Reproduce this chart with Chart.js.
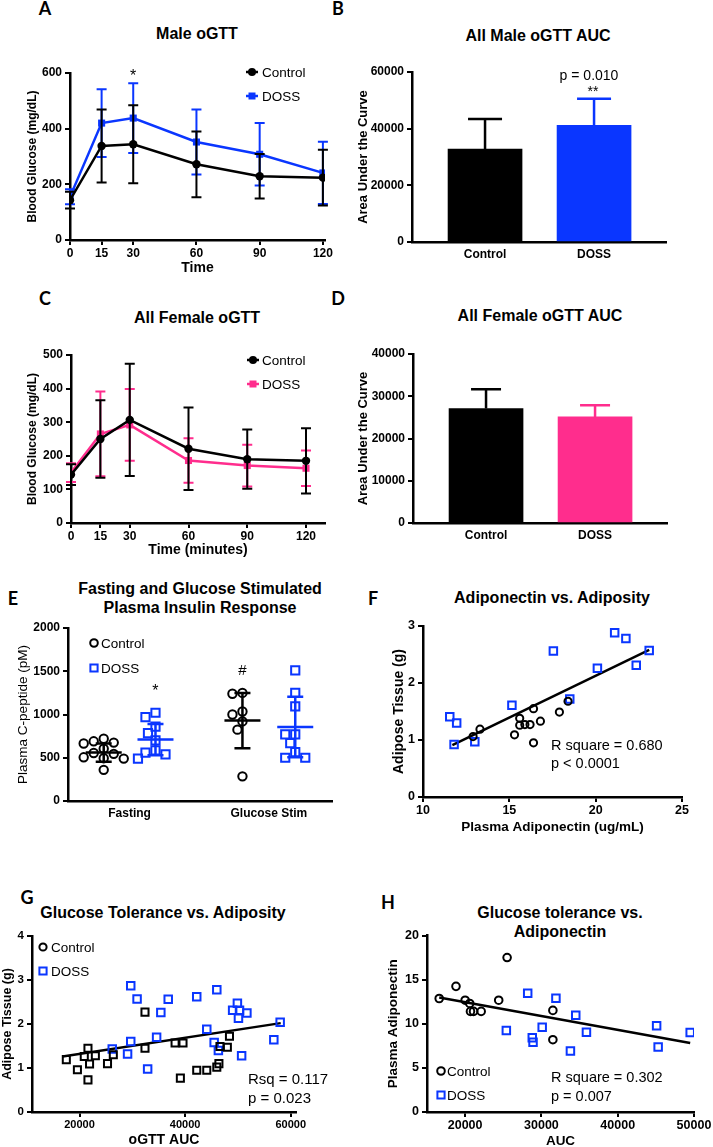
<!DOCTYPE html>
<html>
<head>
<meta charset="utf-8">
<script src="https://cdn.jsdelivr.net/npm/chart.js@4.4.1/dist/chart.umd.min.js"></script>
<style>
  body { margin: 0; width: 713px; height: 1147px; position: relative; overflow: hidden; background: #fff; font-family: "Liberation Sans", Arial, sans-serif; }
  canvas { position: absolute; }
  .ttl { position: absolute; transform: translate(-50%, -50%); font-weight: bold; font-size: 16px; white-space: nowrap; text-align: center; line-height: 19px; }
  .lt { position: absolute; transform: translate(-50%, -50%); font-family: Lato, "Liberation Sans", sans-serif; font-weight: bold; font-size: 18px; }
</style>
</head>
<body>
<div class="lt" style="left:45px;top:8px">A</div>
<div class="lt" style="left:338px;top:8px">B</div>
<div class="lt" style="left:45px;top:298px">C</div>
<div class="lt" style="left:338px;top:298px">D</div>
<div class="lt" style="left:13px;top:598px">E</div>
<div class="lt" style="left:373px;top:598px">F</div>
<div class="lt" style="left:27px;top:897px">G</div>
<div class="lt" style="left:388px;top:902px">H</div>

<div class="ttl" style="left:197px;top:33px">Male oGTT</div>
<div class="ttl" style="left:538px;top:35px">All Male oGTT AUC</div>
<div class="ttl" style="left:197px;top:317px">All Female oGTT</div>
<div class="ttl" style="left:540px;top:315px">All Female oGTT AUC</div>
<div class="ttl" style="left:200px;top:598px">Fasting and Glucose Stimulated<br>Plasma Insulin Response</div>
<div class="ttl" style="left:552px;top:597px">Adiponectin vs. Adiposity</div>
<div class="ttl" style="left:163px;top:912px">Glucose Tolerance vs. Adiposity</div>
<div class="ttl" style="left:560px;top:922px">Glucose tolerance vs.<br>Adiponectin</div>

<script>
// ---- data ----
const timePoints = [0, 15, 30, 60, 90, 120];

// A: male oGTT, mean and SD (mg/dL)
const maleCtrlMean = [143, 338, 344, 272, 229, 224];
const maleCtrlSD = [30, 131, 140, 118, 80, 100];
const maleDossMean = [155, 420, 438, 352, 308, 241];
const maleDossSD = [27, 122, 125, 117, 112, 112];

// C: female oGTT
const femCtrlMean = [144, 250, 307, 221, 190, 185];
const femCtrlSD = [31, 115, 167, 123, 88, 97];
const femDossMean = [150, 265, 292, 186, 171, 163];
const femDossSD = [28, 126, 107, 66, 62, 53];

// B, D: AUC bars
const aucGroups = ['Control', 'DOSS'];
const maleAuc = [32800, 41200];
const maleAucSD = [10650, 9350];
const femAuc = [27100, 25100];
const femAucSD = [4550, 2780];

// E: C-peptide (pM)
const insulinGroups = ['Fasting', 'Glucose Stim'];
const fastCtrl = [690, 665, 675, 720, 605, 545, 505, 495, 490, 555, 360];
const fastDoss = [1020, 970, 860, 785, 700, 560, 490, 540, 585];
const stimCtrl = [1250, 1240, 1000, 1035, 920, 825, 285];
const stimDoss = [1510, 1250, 1095, 770, 770, 670, 565, 500, 500];
const ctrlMeans = [560, 930];
const ctrlSDs = [105, 320];
const dossMeans = [710, 855];
const dossSDs = [180, 350];

// F: adiponectin (ug/mL) vs adipose tissue (g)
const fCtrlX = [12.9, 13.3, 15.3, 15.6, 15.6, 15.9, 16.2, 16.4, 16.4, 16.8, 17.9, 18.4];
const fCtrlY = [1.06, 1.19, 1.09, 1.38, 1.26, 1.27, 1.27, 1.55, 0.95, 1.33, 1.49, 1.68];
const fDossX = [11.55, 11.95, 11.8, 13.0, 15.15, 17.55, 18.5, 20.1, 21.1, 21.75, 22.35, 23.1];
const fDossY = [1.41, 1.30, 0.92, 0.97, 1.61, 2.56, 1.72, 2.26, 2.88, 2.78, 2.31, 2.57];
const fFitX = [11.7, 23.1];
const fFitY = [0.91, 2.58];

// G: oGTT AUC vs adipose tissue (g)
const gCtrlX = [17500, 19600, 20900, 21600, 21600, 21900, 23000, 25300, 26400, 32400, 32400, 38100, 39100, 39600, 42200, 44100, 46000, 46400, 46600, 48000, 48400];
const gCtrlY = [1.19, 0.96, 1.26, 1.45, 0.73, 1.09, 1.28, 1.10, 1.30, 1.45, 2.27, 1.57, 0.77, 1.57, 0.95, 0.95, 1.02, 1.10, 1.49, 1.47, 1.72];
const gDossX = [26200, 29100, 29700, 29700, 30900, 32900, 34600, 35400, 36800, 42200, 44100, 45500, 46000, 46300, 49000, 49900, 50100, 50300, 51700, 50700, 56800, 58000];
const gDossY = [1.43, 1.32, 1.60, 2.87, 2.57, 0.98, 1.70, 2.26, 2.56, 2.62, 1.88, 1.58, 2.78, 1.40, 2.31, 2.47, 2.13, 2.31, 2.25, 1.28, 1.64, 2.04];
const gFitX = [16800, 58100];
const gFitY = [1.26, 2.02];

// H: AUC vs plasma adiponectin
const hCtrlX = [16600, 18800, 20000, 20600, 20700, 21100, 22100, 24400, 25500, 31500, 31500];
const hCtrlY = [12.86, 14.24, 12.67, 12.30, 11.40, 11.40, 11.40, 12.67, 17.50, 11.51, 8.19];
const hDossX = [25400, 28200, 28800, 28900, 30100, 31900, 33800, 34500, 35900, 45100, 45300, 49500];
const hDossY = [9.23, 13.46, 8.41, 7.89, 9.61, 12.90, 6.92, 10.95, 9.05, 9.76, 7.36, 9.01];
const hFitX = [16600, 49500];
const hFitY = [12.97, 7.81];

// ---- styling ----
const BLUE = '#0a36ff';
const PINK = '#ff2d8d';
const FONT = '"Liberation Sans", Arial, Helvetica, sans-serif';
Chart.defaults.font.family = FONT;
Chart.defaults.color = '#000';

const decoCfg = {};

function xy(xs, ys) { return xs.map((x, i) => ({ x: x, y: ys[i] })); }

function drawMark(ctx, shape, x, y, r, color, fill) {
  ctx.beginPath();
  if (shape === 'circle') ctx.arc(x, y, r, 0, Math.PI * 2);
  else ctx.rect(x - r, y - r, 2 * r, 2 * r);
  if (fill) { ctx.fillStyle = color; ctx.fill(); }
  else { ctx.lineWidth = 2; ctx.strokeStyle = color; ctx.stroke(); }
}

// error bars (symmetric or upper only) from dataset arrays
const errorBars = {
  id: 'errorBars',
  beforeDatasetDraw(chart, args) {
    const ds = chart.data.datasets[args.index];
    if (!ds.errs && !ds.errUp) return;
    const ctx = chart.ctx, ys = chart.scales.y, cap = ds.capHalf || 5;
    ctx.save();
    ctx.lineWidth = ds.errWidth || 2;
    args.meta.data.forEach((el, i) => {
      const v = ds.data[i].y;
      const up = ds.errs ? ds.errs[i] : ds.errUp[i];
      const lo = ds.errs ? ds.errs[i] : 0;
      const c = ds.errColor || ds.borderColor;
      ctx.strokeStyle = Array.isArray(c) ? c[i] : c;
      const yt = ys.getPixelForValue(v + up), yb = ys.getPixelForValue(v - lo);
      ctx.beginPath();
      ctx.moveTo(el.x, yt); ctx.lineTo(el.x, yb);
      ctx.moveTo(el.x - cap, yt); ctx.lineTo(el.x + cap, yt);
      if (lo) { ctx.moveTo(el.x - cap, yb); ctx.lineTo(el.x + cap, yb); }
      ctx.stroke();
    });
    ctx.restore();
  },
  // mean line + SD for the dot plot
  afterDatasetDraw(chart, args) {
    const ds = chart.data.datasets[args.index];
    if (!ds.summary) return;
    const s = ds.summary, ctx = chart.ctx, xs = chart.scales.x, ys = chart.scales.y;
    ctx.save();
    ctx.strokeStyle = ds.borderColor;
    ctx.lineWidth = 2.5;
    s.at.forEach((xv, i) => {
      const x = xs.getPixelForValue(xv);
      const ym = ys.getPixelForValue(s.means[i]);
      const yt = ys.getPixelForValue(s.means[i] + s.sds[i]);
      const yb = ys.getPixelForValue(s.means[i] - s.sds[i]);
      ctx.beginPath();
      ctx.moveTo(x - 18, ym); ctx.lineTo(x + 18, ym);
      ctx.moveTo(x, yt); ctx.lineTo(x, yb);
      ctx.moveTo(x - 8, yt); ctx.lineTo(x + 8, yt);
      ctx.moveTo(x - 8, yb); ctx.lineTo(x + 8, yb);
      ctx.stroke();
    });
    ctx.restore();
  }
};

// legends and text notes
const deco = {
  id: 'deco',
  afterDraw(chart) {
    const o = decoCfg[chart.canvas.id];
    if (!o) return;
    const ctx = chart.ctx, ox = o.box.x, oy = o.box.y;
    ctx.save();
    if (o.legend) {
      const L = o.legend;
      L.items.forEach((it, k) => {
        const ds = chart.data.datasets[it.ds];
        const x = L.x - ox, y = L.y + k * L.dy - oy;
        if (it.line) {
          ctx.strokeStyle = ds.borderColor; ctx.lineWidth = 2.5;
          ctx.beginPath(); ctx.moveTo(x - 6, y); ctx.lineTo(x + 6, y); ctx.stroke();
        }
        drawMark(ctx, it.shape, x, y, it.size, ds.borderColor, it.fill);
        ctx.fillStyle = '#000';
        ctx.font = L.font;
        ctx.textAlign = 'left'; ctx.textBaseline = 'middle';
        ctx.fillText(ds.label, L.tx - ox, y + 1);
      });
    }
    (o.notes || []).forEach(n => {
      let x, y;
      if (n.data) { x = chart.scales.x.getPixelForValue(n.x); y = chart.scales.y.getPixelForValue(n.y); }
      else { x = n.x - ox; y = n.y - oy; }
      ctx.fillStyle = '#000';
      ctx.font = n.font;
      ctx.textAlign = n.align || 'center'; ctx.textBaseline = 'middle';
      ctx.fillText(n.text, x, y);
    });
    ctx.restore();
  }
};

function yScale(box, plot, o) {
  const lh = o.tsize * 1.2;
  return {
    type: 'linear', position: 'left', min: o.min, max: o.max,
    ticks: { stepSize: o.step, font: { size: o.fsize || 12, weight: 'bold' }, padding: 3, callback: v => v },
    grid: { drawOnChartArea: false, color: '#000', lineWidth: 2, tickLength: 5 },
    border: { color: '#000', width: 2.5 },
    title: { display: true, text: o.title, font: { size: o.tsize, weight: o.tweight || 'bold' },
      padding: { top: o.tx - box.x - lh / 2, bottom: 0 } },
    afterFit(s) { s.width = plot.l - box.x; }
  };
}

function xScale(box, plot, o) {
  const lh = (o.tsize || 14) * 1.2;
  return {
    type: 'linear', position: 'bottom', min: o.min, max: o.max, offset: false,
    afterBuildTicks(s) { s.ticks = o.ticks.map(v => ({ value: v })); },
    ticks: { autoSkip: false, maxRotation: 0, font: { size: o.fsize || 12, weight: 'bold' },
      padding: o.tickMarks ? 1 : 5, callback: o.labels ? (v, i) => o.labels[i] : v => v },
    grid: { offset: false, drawOnChartArea: false, drawTicks: !!o.tickMarks, color: '#000', lineWidth: 2, tickLength: 5 },
    border: { color: '#000', width: 2.5 },
    title: o.title ? { display: true, text: o.title, font: { size: o.tsize, weight: 'bold' },
      padding: { top: 0, bottom: box.y + box.h - o.ty - lh / 2 } } : { display: false },
    afterFit(s) { s.height = box.y + box.h - plot.b; }
  };
}

function makeChart(id, box, plot, type, datasets, scales, extra) {
  const c = document.createElement('canvas');
  c.id = id; c.width = box.w; c.height = box.h;
  c.style.left = box.x + 'px'; c.style.top = box.y + 'px';
  document.body.appendChild(c);
  if (extra) { extra.box = box; decoCfg[id] = extra; }
  return new Chart(c, {
    type: type,
    data: { datasets: datasets },
    options: {
      responsive: false, animation: false, devicePixelRatio: 1, events: [],
      layout: { padding: { left: 0, top: plot.t - box.y, right: box.x + box.w - plot.r, bottom: 0 } },
      plugins: { legend: { display: false }, tooltip: { enabled: false } },
      scales: scales
    },
    plugins: [errorBars, deco]
  });
}

function lineSet(label, color, means, sds, shape, r) {
  return {
    label: label, data: xy(timePoints, means), errs: sds, capHalf: 5,
    borderColor: color, backgroundColor: color, borderWidth: 2.5,
    pointStyle: shape, pointRadius: r, pointBorderWidth: 0, tension: 0
  };
}

const legFont = '13.5px ' + FONT;

// ---- A ----
{
  const box = { x: 0, y: 45, w: 350, h: 240 }, plot = { l: 70, r: 325, t: 73, b: 240 };
  makeChart('cA', box, plot, 'line', [
    lineSet('Control', '#000', maleCtrlMean, maleCtrlSD, 'circle', 4.2),
    lineSet('DOSS', BLUE, maleDossMean, maleDossSD, 'rect', 5)
  ], {
    x: xScale(box, plot, { min: 0, max: 121, ticks: timePoints, tickMarks: true, title: 'Time', tsize: 14, ty: 268 }),
    y: yScale(box, plot, { min: 0, max: 600, step: 200, title: 'Blood Glucose (mg/dL)', tsize: 12, tx: 33 })
  }, {
    legend: { x: 252, y: 72, dy: 24, tx: 262, font: legFont, items: [
      { ds: 0, shape: 'circle', size: 4, fill: true, line: true },
      { ds: 1, shape: 'rect', size: 3.5, fill: true, line: true }] },
    notes: [{ data: true, x: 30, y: 588, text: '*', font: '16px ' + FONT }]
  });
}

// ---- B ----
{
  const box = { x: 350, y: 45, w: 363, h: 240 }, plot = { l: 412, r: 666, t: 72, b: 242 };
  makeChart('cB', box, plot, 'bar', [{
    label: 'AUC', data: xy([0, 1], maleAuc), errUp: maleAucSD, capHalf: 17, errWidth: 2.5,
    backgroundColor: ['#000', BLUE], borderColor: ['#000', BLUE], borderWidth: 0, barThickness: 74
  }], {
    x: xScale(box, plot, { min: -0.67, max: 1.66, ticks: [0, 1], labels: aucGroups }),
    y: yScale(box, plot, { min: 0, max: 60000, step: 20000, title: 'Area Under the Curve', tsize: 13, tx: 363 })
  }, {
    notes: [{ x: 589, y: 76, text: 'p = 0.010', font: '14px ' + FONT },
            { x: 593, y: 92, text: '**', font: '14px ' + FONT }]
  });
}

// ---- C ----
{
  const box = { x: 0, y: 330, w: 350, h: 235 }, plot = { l: 71, r: 325, t: 355, b: 523 };
  makeChart('cC', box, plot, 'line', [
    lineSet('Control', '#000', femCtrlMean, femCtrlSD, 'circle', 4.2),
    lineSet('DOSS', PINK, femDossMean, femDossSD, 'rect', 5)
  ], {
    x: xScale(box, plot, { min: 0, max: 129.7, ticks: timePoints, tickMarks: true, title: 'Time (minutes)', tsize: 14, ty: 550 }),
    y: yScale(box, plot, { min: 0, max: 500, step: 100, title: 'Blood Glucose (mg/dL)', tsize: 12, tx: 33 })
  }, {
    legend: { x: 253, y: 360, dy: 24, tx: 262, font: legFont, items: [
      { ds: 0, shape: 'circle', size: 4, fill: true, line: true },
      { ds: 1, shape: 'rect', size: 3.5, fill: true, line: true }] }
  });
}

// ---- D ----
{
  const box = { x: 350, y: 330, w: 363, h: 230 }, plot = { l: 413, r: 667, t: 354, b: 523 };
  makeChart('cD', box, plot, 'bar', [{
    label: 'AUC', data: xy([0, 1], femAuc), errUp: femAucSD, capHalf: 15, errWidth: 2.5,
    backgroundColor: ['#000', PINK], borderColor: ['#000', PINK], borderWidth: 0, barThickness: 74
  }], {
    x: xScale(box, plot, { min: -0.67, max: 1.66, ticks: [0, 1], labels: aucGroups }),
    y: yScale(box, plot, { min: 0, max: 40000, step: 10000, title: 'Area Under the Curve', tsize: 13, tx: 363 })
  });
}

// ---- E ----
// horizontal spread of the dots so that close values do not overlap (beeswarm)
function spread(vals, center) {
  const pxX = 51.7, pxY = 173 / 2000, gap = 9.5;
  const order = vals.map((v, i) => i).sort((a, b) => vals[b] - vals[a]);
  const placed = [], out = [];
  order.forEach(i => {
    for (let k = 0; k < 60; k++) {
      const off = (k % 2 ? -1 : 1) * Math.ceil(k / 2) * 2.5;
      const hit = placed.some(p => Math.hypot(p.off - off, (p.v - vals[i]) * pxY) < gap);
      if (!hit) { placed.push({ off: off, v: vals[i] }); out[i] = { x: center + off / pxX, y: vals[i] }; break; }
    }
  });
  return out;
}
{
  const box = { x: 0, y: 615, w: 350, h: 215 }, plot = { l: 68, r: 332, t: 628, b: 801 };
  const groupX = { ctrl: [1, 3.68], doss: [2, 4.7] };
  makeChart('cE', box, plot, 'scatter', [{
    label: 'Control', data: spread(fastCtrl, groupX.ctrl[0]).concat(spread(stimCtrl, groupX.ctrl[1])),
    borderColor: '#000', backgroundColor: 'rgba(0,0,0,0)', pointStyle: 'circle', pointRadius: 4.2, pointBorderWidth: 2,
    summary: { at: groupX.ctrl, means: ctrlMeans, sds: ctrlSDs }
  }, {
    label: 'DOSS', data: spread(fastDoss, groupX.doss[0]).concat(spread(stimDoss, groupX.doss[1])),
    borderColor: BLUE, backgroundColor: 'rgba(0,0,0,0)', pointStyle: 'rect', pointRadius: 5.8, pointBorderWidth: 2,
    summary: { at: groupX.doss, means: dossMeans, sds: dossSDs }
  }], {
    x: xScale(box, plot, { min: 0.31, max: 5.41, ticks: [1.5, 4.19], labels: insulinGroups }),
    y: yScale(box, plot, { min: 0, max: 2000, step: 500, title: 'Plasma C-peptide (pM)', tsize: 13.5, tweight: 'normal', tx: 23 })
  }, {
    legend: { x: 94, y: 643, dy: 25, tx: 101, font: legFont, items: [
      { ds: 0, shape: 'circle', size: 3.8 }, { ds: 1, shape: 'rect', size: 3.6 }] },
    notes: [{ data: true, x: 2, y: 1270, text: '*', font: '16px ' + FONT },
            { data: true, x: 3.68, y: 1510, text: '#', font: '15px ' + FONT }]
  });
}

function scatterSets(ctrl, doss, fit, ctrlShape, rC, rD) {
  return [{
    label: 'Control', data: ctrl, borderColor: '#000', backgroundColor: 'rgba(0,0,0,0)',
    pointStyle: ctrlShape, pointRadius: rC, pointBorderWidth: 2
  }, {
    label: 'DOSS', data: doss, borderColor: BLUE, backgroundColor: 'rgba(0,0,0,0)',
    pointStyle: 'rect', pointRadius: rD, pointBorderWidth: 2
  }, {
    label: 'fit', data: fit, showLine: true, borderColor: '#000', borderWidth: 2.5, pointRadius: 0
  }];
}

// ---- F ----
{
  const box = { x: 352, y: 615, w: 361, h: 225 }, plot = { l: 423, r: 682, t: 626, b: 797 };
  makeChart('cF', box, plot, 'scatter',
    scatterSets(xy(fCtrlX, fCtrlY), xy(fDossX, fDossY), xy(fFitX, fFitY), 'circle', 3.6, 5.3), {
    x: xScale(box, plot, { min: 10, max: 25, ticks: [10, 15, 20, 25], tickMarks: true, fsize: 12.5,
      title: 'Plasma Adiponectin (ug/mL)', tsize: 13.5, ty: 827 }),
    y: yScale(box, plot, { min: 0, max: 3, step: 1, fsize: 12.5, title: 'Adipose Tissue (g)', tsize: 14, tx: 399 })
  }, {
    notes: [{ x: 551, y: 746, text: 'R square = 0.680', font: '14.5px ' + FONT, align: 'left' },
            { x: 551, y: 764, text: 'p < 0.0001', font: '14.5px ' + FONT, align: 'left' }]
  });
}

// ---- G ----
{
  const box = { x: 0, y: 925, w: 345, h: 228 }, plot = { l: 32, r: 296, t: 936, b: 1112 };
  makeChart('cG', box, plot, 'scatter',
    scatterSets(xy(gCtrlX, gCtrlY), xy(gDossX, gDossY), xy(gFitX, gFitY), 'rect', 5, 5.3), {
    x: xScale(box, plot, { min: 11000, max: 61000, ticks: [20000, 40000, 60000], tickMarks: true, fsize: 11,
      title: 'oGTT AUC', tsize: 14, ty: 1140 }),
    y: yScale(box, plot, { min: 0, max: 4, step: 1, fsize: 11.5, title: 'Adipose Tissue (g)', tsize: 12.5, tx: 8 })
  }, {
    legend: { x: 43, y: 947, dy: 24, tx: 51, font: legFont, items: [
      { ds: 0, shape: 'circle', size: 3.6 }, { ds: 1, shape: 'rect', size: 3.6 }] },
    notes: [{ x: 248, y: 1080, text: 'Rsq = 0.117', font: '15px ' + FONT, align: 'left' },
            { x: 248, y: 1099, text: 'p = 0.023', font: '15px ' + FONT, align: 'left' }]
  });
}

// ---- H ----
{
  const box = { x: 352, y: 925, w: 361, h: 228 }, plot = { l: 427, r: 694, t: 934, b: 1112 };
  makeChart('cH', box, plot, 'scatter',
    scatterSets(xy(hCtrlX, hCtrlY), xy(hDossX, hDossY), xy(hFitX, hFitY), 'circle', 3.8, 5.3), {
    x: xScale(box, plot, { min: 15000, max: 50000, ticks: [20000, 30000, 40000, 50000], tickMarks: true, fsize: 12.5,
      title: 'AUC', tsize: 13.5, ty: 1141 }),
    y: yScale(box, plot, { min: 0, max: 20, step: 5, fsize: 12.5, title: 'Plasma Adiponectin', tsize: 13.5, tx: 393 })
  }, {
    legend: { x: 441, y: 1071, dy: 24, tx: 447, font: legFont, items: [
      { ds: 0, shape: 'circle', size: 3.8 }, { ds: 1, shape: 'rect', size: 3.6 }] },
    notes: [{ x: 551, y: 1078, text: 'R square = 0.302', font: '14.5px ' + FONT, align: 'left' },
            { x: 551, y: 1097, text: 'p = 0.007', font: '14.5px ' + FONT, align: 'left' }]
  });
}
</script>
</body>
</html>
